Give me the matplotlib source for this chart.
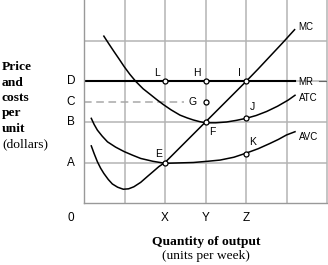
import numpy as np
import matplotlib
matplotlib.use("Agg")
import matplotlib.pyplot as plt

# curves (x in grid units, y in grid units)
mc_x = [0.18, 0.25, 0.33, 0.41, 0.49, 0.60, 0.70, 0.83, 0.97, 1.10, 1.23, 1.40,
        1.56, 1.70, 1.85, 2.0, 3.0, 4.0, 4.3, 4.6, 4.9, 5.2]
mc_y = [1.41, 1.22, 1.02, 0.86, 0.73, 0.58, 0.47, 0.39, 0.34, 0.35, 0.40, 0.51,
        0.65, 0.77, 0.90, 1.0, 2.0, 3.0, 3.31, 3.63, 3.95, 4.28]
atc_x = [0.49, 0.62, 0.74, 0.87, 0.99, 1.13, 1.28, 1.46, 1.65, 1.80, 1.96, 2.15,
         2.37, 2.55, 2.70, 2.85, 3.0, 3.25, 3.52, 3.76, 4.0, 4.25, 4.51, 4.78,
         5.04, 5.21]
atc_y = [4.12, 3.92, 3.74, 3.55, 3.37, 3.18, 3.0, 2.82, 2.67, 2.55, 2.43, 2.30,
         2.17, 2.10, 2.05, 2.01, 1.98, 1.98, 2.0, 2.04, 2.09, 2.16, 2.26, 2.39,
         2.54, 2.66]
avc_x = [0.18, 0.25, 0.33, 0.45, 0.58, 0.78, 0.99, 1.20, 1.40, 1.70, 2.0, 2.35,
         2.70, 3.05, 3.36, 3.70, 4.0, 4.3, 4.59, 4.8, 5.0, 5.21]
avc_y = [2.09, 1.94, 1.80, 1.65, 1.51, 1.38, 1.27, 1.18, 1.10, 1.03, 0.98, 0.99,
         1.0, 1.03, 1.06, 1.13, 1.23, 1.34, 1.47, 1.57, 1.68, 1.76]
mr_x = [0.0, 5.2]
mr_y = [3.0, 3.0]

# labelled points
pt_names = ["L", "H", "I", "G", "F", "J", "E", "K"]
pt_x = [2, 3, 4, 3, 3, 4, 2, 4]
pt_y = [3.0, 3.0, 3.0, 2.5, 2.0, 2.09, 1.0, 1.22]
pt_lx = [1.80, 2.79, 3.83, 2.67, 3.18, 4.15, 1.83, 4.15]
pt_ly = [3.2, 3.2, 3.2, 2.5, 1.76, 2.36, 1.21, 1.5]

y_names = ["A", "B", "C", "D"]
y_vals = [1, 2, 2.5, 3]
x_names = ["0", "X", "Y", "Z"]
x_vals = [-0.32, 2, 3, 4]

curve_names = ["MC", "MR", "ATC", "AVC"]
curve_lab_y = [4.35, 2.99, 2.6, 1.64]

fig = plt.figure(figsize=(3.28, 2.65), dpi=100)
ax = fig.add_axes([84/328, 62/265, 243/328, 202.5/265])
ax.set_xlim(0, 6)
ax.set_ylim(0, 5)
grid_c = "#b4b4b4"
for v in range(1, 7):
    ax.axvline(v, color=grid_c, lw=1.1, zorder=0, clip_on=False)
for v in range(1, 5):
    ax.axhline(v, color=grid_c, lw=1.1, zorder=0)
for s in ["top", "right"]:
    ax.spines[s].set_visible(False)
for s in ["left", "bottom"]:
    ax.spines[s].set_color("#999999")
    ax.spines[s].set_linewidth(1.0)
ax.set_xticks([])
ax.set_yticks([])

sans = "Liberation Sans"
serif = "Liberation Serif"

for cx, cy in [(mc_x, mc_y), (atc_x, atc_y), (avc_x, avc_y)]:
    ax.plot(cx, cy, color="black", lw=1.1, zorder=2, solid_joinstyle="round")
ax.plot(mr_x, mr_y, color="black", lw=1.5, zorder=2)
ax.plot([5.8, 6.0], [3.0, 3.0], color="#666666", lw=0.8, zorder=2)
ax.plot([0, 2.48], [2.5, 2.5], color="#a8a8a8", lw=1.1, ls=(0, (5, 3)), zorder=1)

ax.plot(pt_x, pt_y, "o", ms=3.6, mfc="white", mec="black", mew=0.9, zorder=3)
for n, lx, ly in zip(pt_names, pt_lx, pt_ly):
    ax.text(lx, ly, n, fontsize=7.5, family=sans, ha="center", va="center")

for n, ly in zip(curve_names, curve_lab_y):
    ax.text(5.3, ly, n, fontsize=7, family=sans, ha="left", va="center")

for n, v in zip(y_names, y_vals):
    ax.text(-0.32, v, n, fontsize=8.5, family=sans, ha="center", va="center", clip_on=False)
for n, v in zip(x_names, x_vals):
    ax.text(v, -0.37, n, fontsize=8.5, family=sans, ha="center", va="center", clip_on=False)

ylab = ["Price", "and", "costs", "per", "unit"]
base = 70.5
for i, t in enumerate(ylab):
    fig.text(2/328, 1 - (base + i*15.3)/265, t, fontsize=9.7, family=serif,
             weight="bold", ha="left", va="baseline")
fig.text(2/328, 1 - (base + 5*15.3)/265, "(dollars)", fontsize=9.7, family=serif,
         ha="left", va="baseline")

fig.text(206/328, 1 - 245/265, "Quantity of output", fontsize=9.7, family=serif,
         weight="bold", ha="center", va="baseline")
fig.text(206/328, 1 - 259.5/265, "(units per week)", fontsize=9.7, family=serif,
         ha="center", va="baseline")

fig.savefig("out.png", dpi=100)
